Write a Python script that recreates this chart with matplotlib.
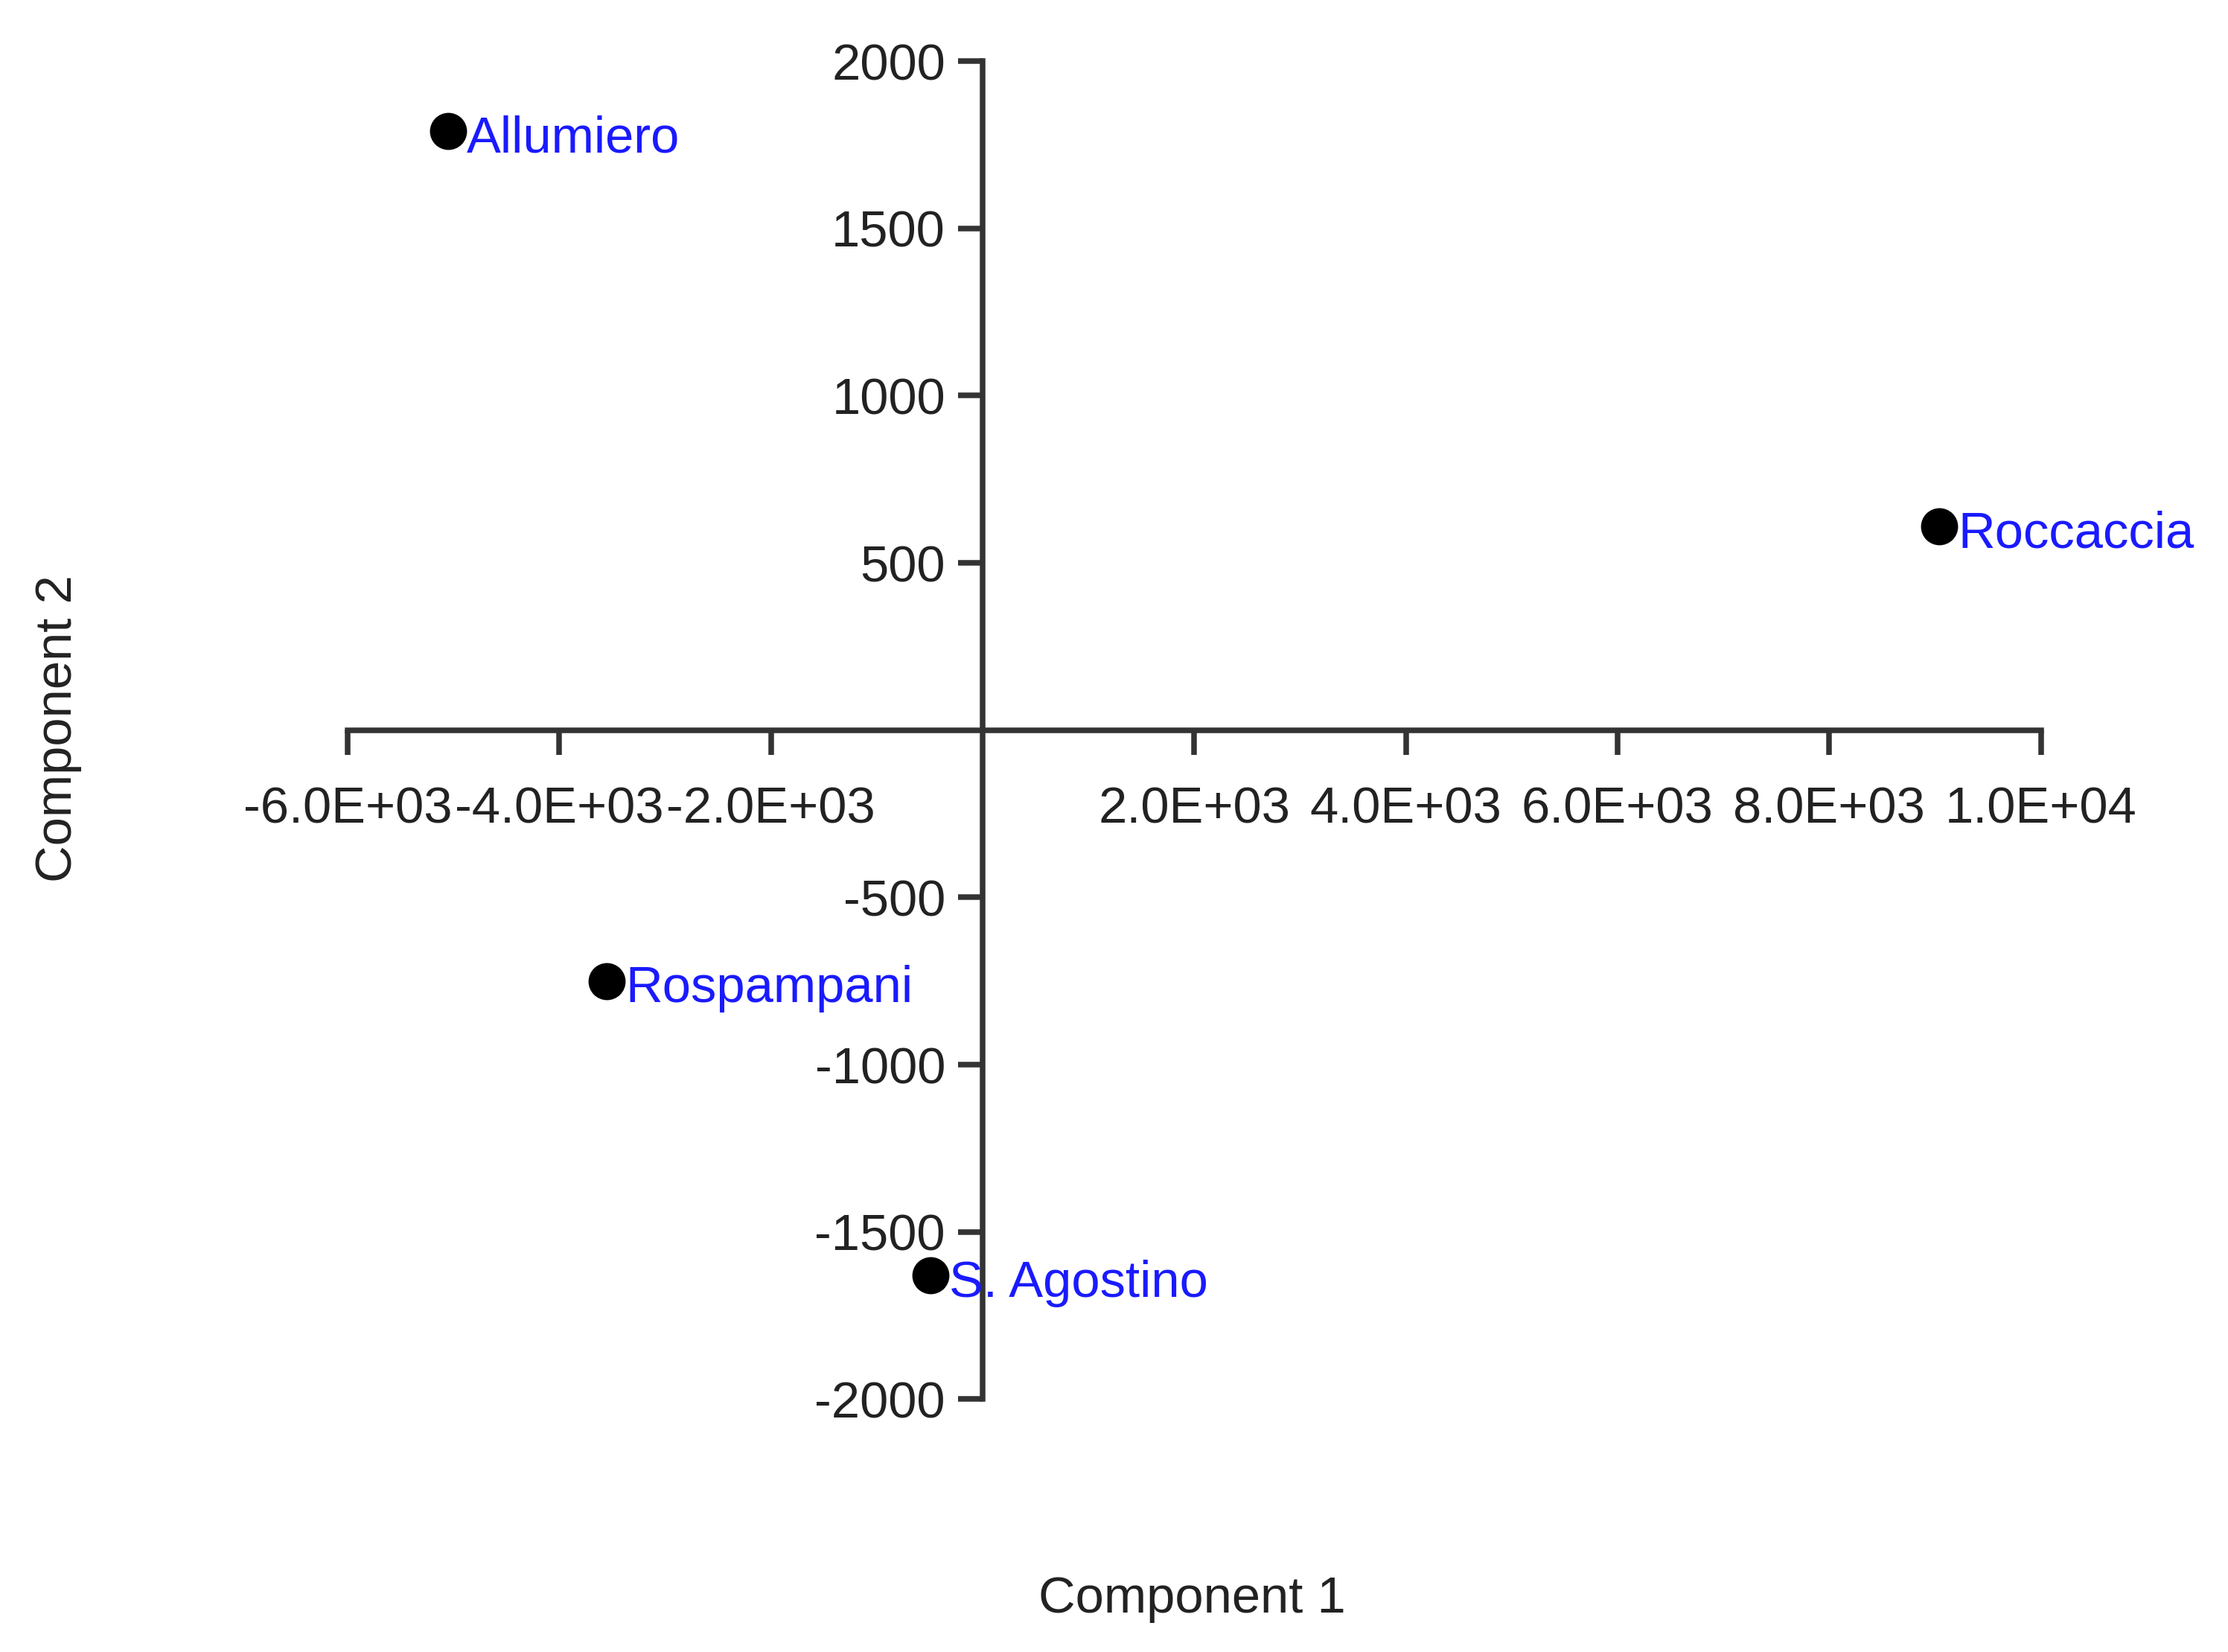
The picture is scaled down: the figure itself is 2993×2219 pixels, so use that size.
import matplotlib.pyplot as plt

# site scores on the first two components
sites = ['Allumiero', 'Roccaccia', 'Rospampani', 'S. Agostino']
comp1 = [-5050, 9040, -3550, -490]
comp2 = [1790, 610, -750, -1630]

x_ticks = [-6000, -4000, -2000, 2000, 4000, 6000, 8000, 10000]
y_ticks = [-2000, -1500, -1000, -500, 500, 1000, 1500, 2000]

plt.rcParams['font.family'] = ['Liberation Sans', 'DejaVu Sans']

fig = plt.figure(figsize=(2993 / 300, 2219 / 300), dpi=300)
ax = fig.add_axes([0.156, 0.153, 0.76, 0.81])

ax.scatter(comp1, comp2, s=120, color='black', zorder=3, clip_on=False)
for name, x, y in zip(sites, comp1, comp2):
    ax.annotate(name, xy=(x, y), xytext=(6, -2.5), textcoords='offset points',
                ha='left', va='center', color='#1a1aff', fontsize=16.5)

ax.set_xlim(-6000, 10000)
ax.set_ylim(-2000, 2000)

for side in ['top', 'right']:
    ax.spines[side].set_visible(False)
ax.spines['left'].set_position(('data', 0))
ax.spines['bottom'].set_position(('data', 0))
for side in ['left', 'bottom']:
    ax.spines[side].set_linewidth(1.8)
    ax.spines[side].set_color('#333333')

ax.set_xticks(x_ticks)
ax.set_xticklabels(['{:.1E}'.format(v) for v in x_ticks])
ax.set_yticks(y_ticks)
ax.set_yticklabels([str(v) for v in y_ticks])
ax.tick_params(axis='x', direction='out', length=8, width=1.8, color='#333333',
               pad=10, labelsize=16.5, labelcolor='#222222')
ax.tick_params(axis='y', direction='out', length=8, width=1.8, color='#333333',
               pad=4, labelsize=16.5, labelcolor='#222222')

fig.text(0.535, 0.032, 'Component 1', ha='center', va='center', fontsize=16.5,
         color='#222222')
fig.text(0.026, 0.559, 'Component 2', ha='center', va='center', fontsize=16.5,
         rotation=90, color='#222222')

fig.savefig('out.png', dpi=300)
